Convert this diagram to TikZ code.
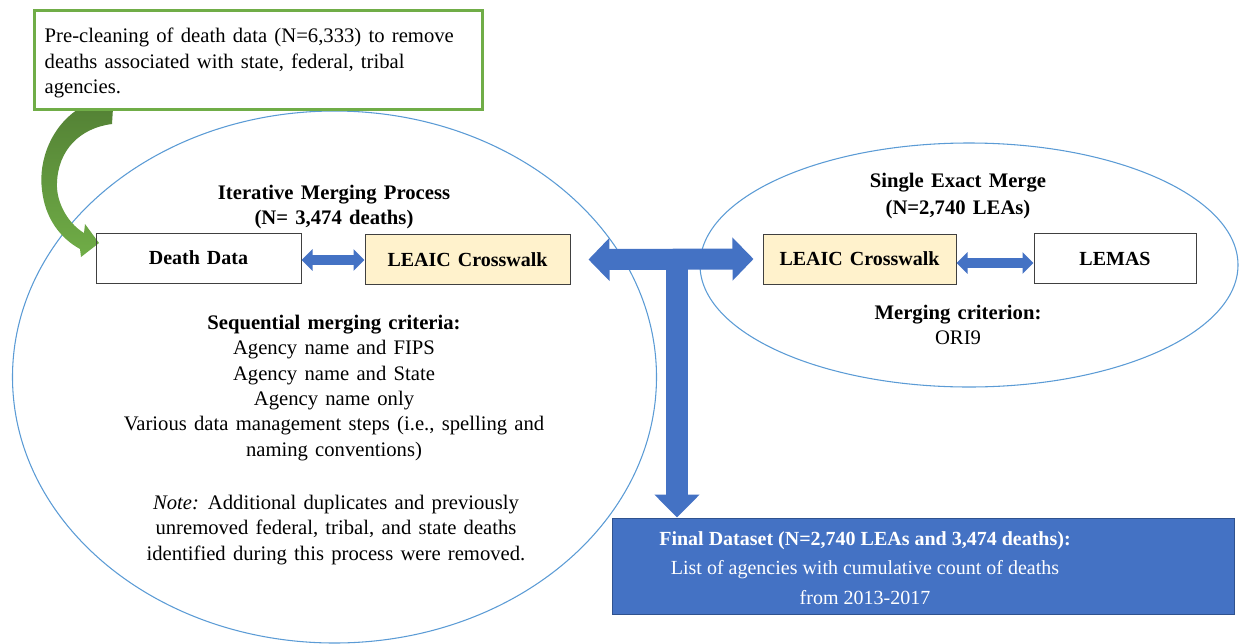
\documentclass[tikz,border=0pt]{standalone}
\usepackage{fontspec}
\setmainfont[WordSpace=1.4]{Liberation Serif}
\newfontfamily\finalfont{Liberation Serif}
\usetikzlibrary{arrows.meta}
\definecolor{ellblue}{RGB}{91,155,213}
\definecolor{arrblue}{RGB}{68,114,196}
\definecolor{boxblue}{RGB}{47,82,143}
\definecolor{xwalk}{RGB}{255,242,204}
\definecolor{grn}{RGB}{112,173,71}
\definecolor{dkgrn}{RGB}{84,130,53}

\begin{document}
\begin{tikzpicture}[x=0.75pt,y=-0.75pt,
    every node/.style={font=\fontsize{15.5}{19}\selectfont},
    databox/.style={draw=black!75,line width=0.75pt,minimum width=#1*0.75pt,
      minimum height=37.5pt,inner sep=0pt,font=\fontsize{15}{19}\selectfont\bfseries},
    prebox/.style={draw=grn,line width=2.25pt,fill=white,minimum width=336pt,
      minimum height=74.25pt,text width=322pt,inner xsep=7pt,align=left},
    finalbox/.style={draw=boxblue,line width=0.75pt,fill=arrblue,
      minimum width=466.5pt,minimum height=72pt},
    bigarrow/.style={arrblue,line width=15.75pt,
      {Triangle[length=15.75pt,width=31.5pt]}-{Triangle[length=15.75pt,width=31.5pt]}},
    downarrow/.style={arrblue,line width=16.5pt,-{Triangle[length=17.25pt,width=33pt]}},
    smallarrow/.style={arrblue,line width=7.5pt,
      {Triangle[length=8.25pt,width=15.75pt]}-{Triangle[length=8.25pt,width=15.75pt]}}]
  \useasboundingbox (0,0) rectangle (1239,643);

  \draw[ellblue,line width=0.8pt] (334.5,377) ellipse [x radius=241.5pt, y radius=199.5pt];
  \draw[ellblue,line width=0.8pt] (969,265) ellipse [x radius=201.75pt, y radius=91.5pt];

  \shade[top color=dkgrn,bottom color=grn]
    (80,108) .. controls (52,125) and (38,160) .. (42,190)
    .. controls (45,218) and (60,238) .. (80,249) -- (81,257) -- (99,243)
    -- (85,224) -- (84,233) .. controls (66,222) and (56,200) .. (57,183)
    .. controls (58,150) and (80,128) .. (112,124) -- (113,108) -- cycle;

  \node[prebox] (precl) at (258,59.5) {};
  \node[anchor=west,align=left] (precltxt) at (40,63)
    {Pre-cleaning of death data (N=6,333) to remove\\
     deaths associated with state, federal, tribal\\
     agencies.};

  \node[align=center,font=\fontsize{15.5}{18.5}\selectfont\bfseries] (itertitle) at (334,207)
    {Iterative Merging Process\\(N= 3,474 deaths)};
  \node[databox=205] (death) at (198.5,258) {Death Data};
  \node[databox=205,fill=xwalk] (xwalkl) at (467.5,259.5) {LEAIC Crosswalk};
  \node[align=center] (criteria) at (334,388)
    {\textbf{Sequential merging criteria:}\\
     Agency name and FIPS\\
     Agency name and State\\
     Agency name only\\
     Various data management steps (i.e., spelling and\\
     naming conventions)};
  \node[align=center] (note) at (336,530)
    {\textit{Note:} Additional duplicates and previously\\
     unremoved federal, tribal, and state deaths\\
     identified during this process were removed.};

  \node[align=center,font=\fontsize{15.5}{20}\selectfont\bfseries] (singletitle) at (958,196)
    {Single Exact Merge\\(N=2,740 LEAs)};
  \node[databox=193,fill=xwalk] (xwalkr) at (859.5,259) {LEAIC Crosswalk};
  \node[databox=162] (lemas) at (1115,258.5) {LEMAS};
  \node[align=center] (criterion) at (958,325)
    {\textbf{Merging criterion:}\\ORI9};

  \node[finalbox] (final) at (923,566) {};
  \node[align=center,text=white,font=\finalfont\fontsize{15}{22}\selectfont] (finaltxt) at (865,568)
    {\textbf{Final Dataset (N=2,740 LEAs and 3,474 deaths):}\\
     List of agencies with cumulative count of deaths\\
     from 2013-2017};

  \draw[smallarrow] ([yshift=-1.5pt]death.east) -- ([yshift=-1.5pt]death.east -| xwalkl.west);
  \draw[smallarrow] ([yshift=-3pt]xwalkr.east) -- ([yshift=-3pt]xwalkr.east -| lemas.west);
  \draw[bigarrow] ([xshift=13.5pt]xwalkl.east) -- ([xshift=-6.75pt]xwalkr.west);
  \coordinate (tee) at (677,259);
  \draw[downarrow] (tee) -- (tee |- final.north);
\end{tikzpicture}
\end{document}
